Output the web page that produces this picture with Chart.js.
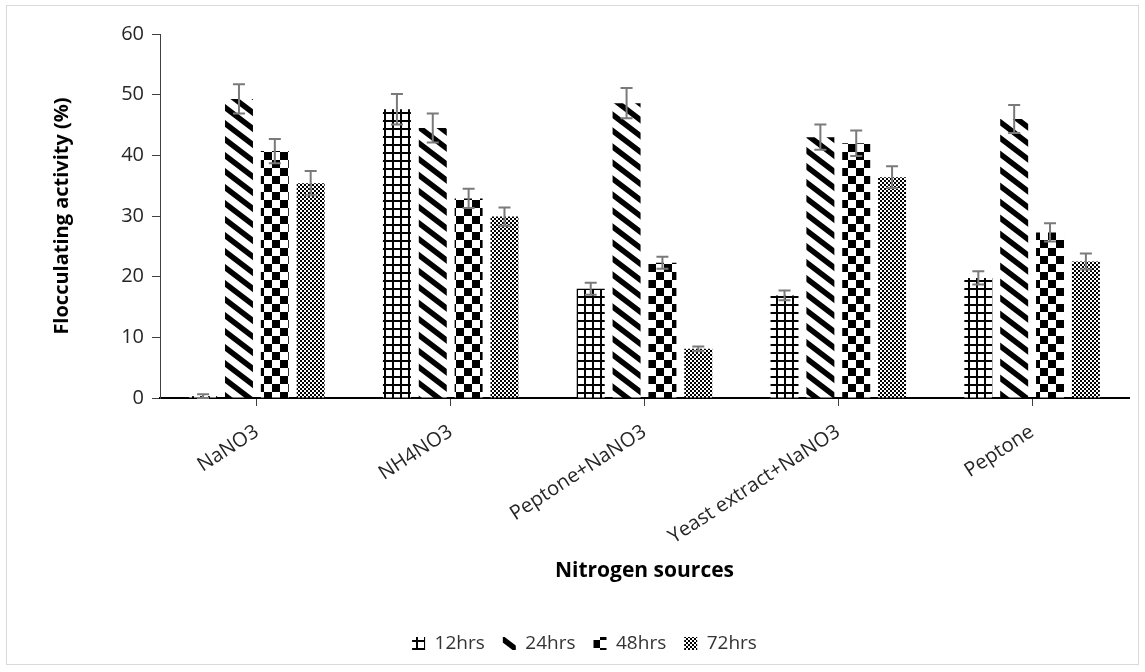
<!DOCTYPE html>
<html>
<head>
<meta charset="utf-8">
<script src="https://cdn.jsdelivr.net/npm/chart.js@4.4.1/dist/chart.umd.min.js"></script>
<style>
  html, body { margin: 0; padding: 0; background: #fff; }
</style>
</head>
<body>
<canvas id="barChart" width="1145" height="672"></canvas>
<script>
// Datos
const categories = ['NaNO3', 'NH4NO3', 'Peptone+NaNO3', 'Yeast extract+NaNO3', 'Peptone'];
const seriesNames = ['12hrs', '24hrs', '48hrs', '72hrs'];
const h12 = [0.3, 47.6, 18.0, 16.9, 19.8];
const h24 = [49.3, 44.5, 48.6, 43.0, 46.0];
const h48 = [40.7, 32.9, 22.3, 42.0, 27.3];
const h72 = [35.4, 29.9, 8.1, 36.4, 22.5];
const err12 = [0.3, 2.5, 1.0, 0.8, 1.1];
const err24 = [2.4, 2.4, 2.5, 2.1, 2.3];
const err48 = [2.0, 1.6, 1.0, 2.1, 1.5];
const err72 = [2.0, 1.5, 0.4, 1.8, 1.3];
const yTicks = [0, 10, 20, 30, 40, 50, 60];

const FONT = "'Open Sans', 'Noto Sans', sans-serif";

// Tramas en blanco y negro
function makePattern(kind) {
    const c = document.createElement('canvas');
    const g = c.getContext('2d');
    if (kind === 'grid') {
        c.width = 8; c.height = 8;
        g.fillStyle = '#fff'; g.fillRect(0, 0, 8, 8);
        g.fillStyle = '#000';
        g.fillRect(0, 0, 8, 2);
        g.fillRect(0, 0, 2, 8);
    } else if (kind === 'diag') {
        c.width = 21; c.height = 16;
        g.fillStyle = '#fff'; g.fillRect(0, 0, 21, 16);
        g.strokeStyle = '#000';
        g.lineWidth = 5.5;
        for (const k of [-21, 0, 21]) {
            g.beginPath();
            g.moveTo(k - 21, -16);
            g.lineTo(k + 42, 32);
            g.stroke();
        }
    } else if (kind === 'checker') {
        c.width = 16; c.height = 16;
        g.fillStyle = '#fff'; g.fillRect(0, 0, 16, 16);
        g.fillStyle = '#000';
        g.fillRect(0, 0, 8, 8);
        g.fillRect(8, 8, 8, 8);
    } else {
        c.width = 4; c.height = 4;
        g.fillStyle = '#fff'; g.fillRect(0, 0, 4, 4);
        g.fillStyle = '#000';
        g.fillRect(0, 0, 2, 2);
        g.fillRect(2, 2, 2, 2);
    }
    return g.createPattern(c, 'repeat');
}

const patterns = [makePattern('grid'), makePattern('diag'), makePattern('checker'), makePattern('fine')];
const values = [h12, h24, h48, h72];
const errors = [err12, err24, err48, err72];

// Barras de error
const errorBars = {
    id: 'errorBars',
    afterDatasetsDraw(chart) {
        const ctx = chart.ctx;
        const y = chart.scales.y;
        ctx.save();
        ctx.strokeStyle = '#7a7a7a';
        ctx.lineWidth = 2;
        chart.data.datasets.forEach((ds, i) => {
            const meta = chart.getDatasetMeta(i);
            meta.data.forEach((bar, j) => {
                const v = ds.data[j];
                const e = errors[i][j];
                const top = y.getPixelForValue(v + e);
                const bot = y.getPixelForValue(Math.max(0, v - e));
                ctx.beginPath();
                ctx.moveTo(bar.x, top); ctx.lineTo(bar.x, bot);
                ctx.moveTo(bar.x - 6, top); ctx.lineTo(bar.x + 6, top);
                ctx.moveTo(bar.x - 6, bot); ctx.lineTo(bar.x + 6, bot);
                ctx.stroke();
            });
        });
        ctx.restore();
    }
};

// Marco exterior
const frame = {
    id: 'frame',
    beforeDraw(chart) {
        const ctx = chart.ctx;
        ctx.save();
        ctx.fillStyle = '#fff';
        ctx.fillRect(0, 0, chart.width, chart.height);
        ctx.strokeStyle = '#d9d9d9';
        ctx.lineWidth = 1;
        ctx.strokeRect(6.5, 5.5, 1132, 659);
        ctx.restore();
    }
};

const ctx = document.getElementById('barChart').getContext('2d');
const barChart = new Chart(ctx, {
    type: 'bar',
    data: {
        labels: categories,
        datasets: seriesNames.map((name, i) => ({
            label: name,
            data: values[i],
            backgroundColor: patterns[i],
            borderWidth: 0,
            categoryPercentage: 0.74,
            barPercentage: 0.78
        }))
    },
    options: {
        responsive: false,
        animation: false,
        layout: { padding: { left: 40, right: 16, top: 34, bottom: 9 } },
        plugins: {
            tooltip: { enabled: false },
            legend: {
                position: 'bottom',
                labels: {
                    boxWidth: 13,
                    boxHeight: 13,
                    padding: 18,
                    color: '#333',
                    font: { family: FONT, size: 19 }
                }
            }
        },
        scales: {
            x: {
                afterFit(scale) { scale.height = 218; },
                grid: { drawOnChartArea: false, offset: false, tickLength: 8, color: '#404040' },
                border: { color: '#000', width: 2 },
                ticks: {
                    minRotation: 33, maxRotation: 33, autoSkip: false,
                    color: '#262626', padding: 14,
                    font: { family: FONT, size: 20 }
                },
                title: {
                    display: true, text: 'Nitrogen sources', color: '#000',
                    font: { family: FONT, size: 21, weight: 'bold' },
                    padding: { top: 0, bottom: 32 }
                }
            },
            y: {
                min: 0, max: 60,
                afterFit(scale) { scale.width = 120; },
                afterBuildTicks(scale) { scale.ticks = yTicks.map(v => ({ value: v })); },
                grid: { drawOnChartArea: false, tickLength: 8, color: '#404040' },
                border: { color: '#404040', width: 1 },
                ticks: { color: '#262626', padding: 8, font: { family: FONT, size: 20 } },
                title: {
                    display: true, text: 'Flocculating activity (%)', color: '#000',
                    font: { family: FONT, size: 20, weight: 'bold' },
                    padding: { top: 10, bottom: 0 }
                }
            }
        }
    },
    plugins: [frame, errorBars]
});
</script>
</body>
</html>
